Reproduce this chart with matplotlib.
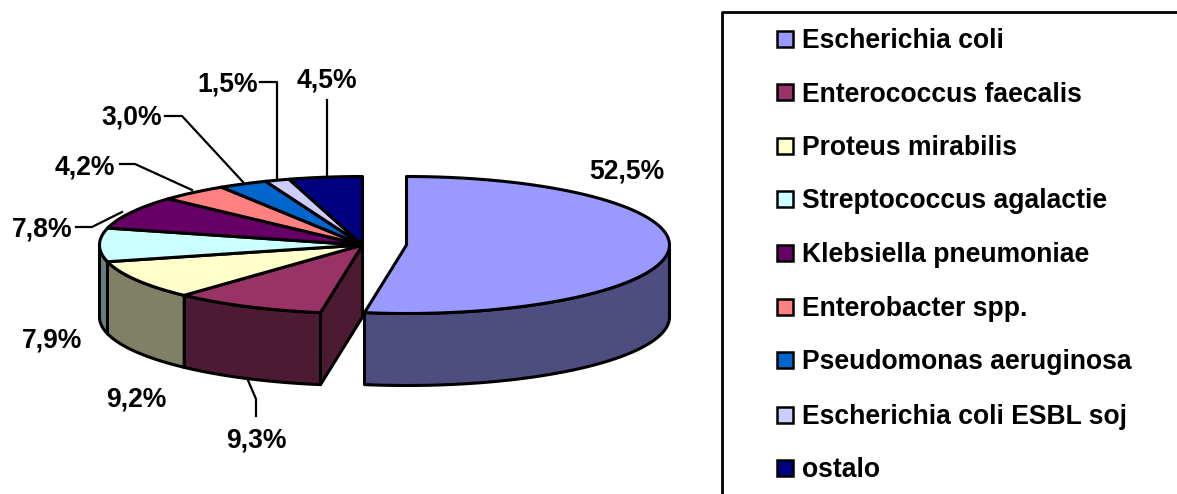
import numpy as np
import matplotlib
matplotlib.use('Agg')
import matplotlib.pyplot as plt

plt.rcParams['font.family'] = ['Liberation Sans', 'DejaVu Sans']

names = ['Escherichia coli', 'Enterococcus faecalis', 'Proteus mirabilis',
         'Streptococcus agalactie', 'Klebsiella pneumoniae', 'Enterobacter spp.',
         'Pseudomonas aeruginosa', 'Escherichia coli ESBL soj', 'ostalo']
values = [52.5, 9.3, 9.2, 7.9, 7.8, 4.2, 3.0, 1.5, 4.5]
labels = ['52,5%', '9,3%', '9,2%', '7,9%', '7,8%', '4,2%', '3,0%', '1,5%', '4,5%']
colors = ['#9999FF', '#993366', '#FFFFCC', '#CCFFFF', '#660066',
          '#FF8080', '#0066CC', '#CCCCFF', '#000080']
side_colors = ['#4D4D80', '#4D1A33', '#808066', '#668080', '#330033',
               '#804040', '#003366', '#666680', '#000040']

label_pos = [(627, 171), (256, 440), (136, 399), (52, 340), (42, 229),
             (85, 167), (132, 117), (228, 84), (327, 80)]
leaders = [None,
           [(247, 378), (256, 399), (256, 416)],
           None, None,
           [(76, 227), (92, 227), (122, 212)],
           [(120, 164), (135, 164), (192, 190)],
           [(165, 116), (182, 116), (243, 182)],
           [(260, 82), (277, 82), (277, 178)],
           [(327, 100), (327, 176)]]

cx, cy = 362.5, 245
rx, ry = 263, 68.5
depth = 72
explode = 44
lw = 2.2


def arc(a0, a1, c, dy=0):
    # angles in degrees, clockwise from 12 o'clock
    t = np.radians(np.linspace(a0, a1, 80))
    return np.column_stack([c + rx * np.sin(t), cy + dy + ry * np.cos(t) * -1])


fig = plt.figure(figsize=(11.77, 4.94), dpi=100)
ax = fig.add_axes([0, 0, 1, 1])
ax.set_xlim(0, 1177)
ax.set_ylim(494, 0)
ax.axis('off')

edges = np.concatenate([[0], np.cumsum(values)]) / sum(values) * 360

# outer walls, only the front half of the rim shows
for i in range(len(values)):
    a0, a1 = edges[i], edges[i + 1]
    lo, hi = max(a0, 90), min(a1, 270)
    if lo >= hi:
        continue
    c = cx + explode if i == 0 else cx
    pts = np.vstack([arc(lo, hi, c), arc(hi, lo, c, depth)])
    ax.fill(pts[:, 0], pts[:, 1], fc=side_colors[i], ec='black', lw=lw, joinstyle='round')

# cut face of the main body next to the pulled out slice
p = arc(edges[1], edges[1], cx)[0]
ax.fill([cx, p[0], p[0], cx], [cy, p[1], p[1] + depth, cy + depth],
        fc=side_colors[1], ec='black', lw=lw, joinstyle='round')

# top faces
for i in range(len(values)):
    c = cx + explode if i == 0 else cx
    pts = np.vstack([[c, cy], arc(edges[i], edges[i + 1], c)])
    ax.fill(pts[:, 0], pts[:, 1], fc=colors[i], ec='black', lw=lw, joinstyle='round')

for lab, pos, lead in zip(labels, label_pos, leaders):
    ax.text(pos[0], pos[1], lab, fontsize=19.1, fontweight='bold', ha='center', va='center')
    if lead:
        ax.plot([q[0] for q in lead], [q[1] for q in lead], color='black', lw=1.6)

# legend box runs off the right and bottom edge
ax.plot([722, 722, 1177], [494, 12.5, 12.5], color='black', lw=2.0, clip_on=True)
row_y = [40, 93, 146, 199, 253, 307, 360, 415, 468]
for name, col, y in zip(names, colors, row_y):
    ax.add_patch(plt.Rectangle((777, y - 8.5), 16, 16, fc=col, ec='black', lw=1.8))
    ax.text(802, y + 1.5, name, fontsize=19.1, fontweight='bold', ha='left', va='center')

fig.savefig('out.png', dpi=100)
